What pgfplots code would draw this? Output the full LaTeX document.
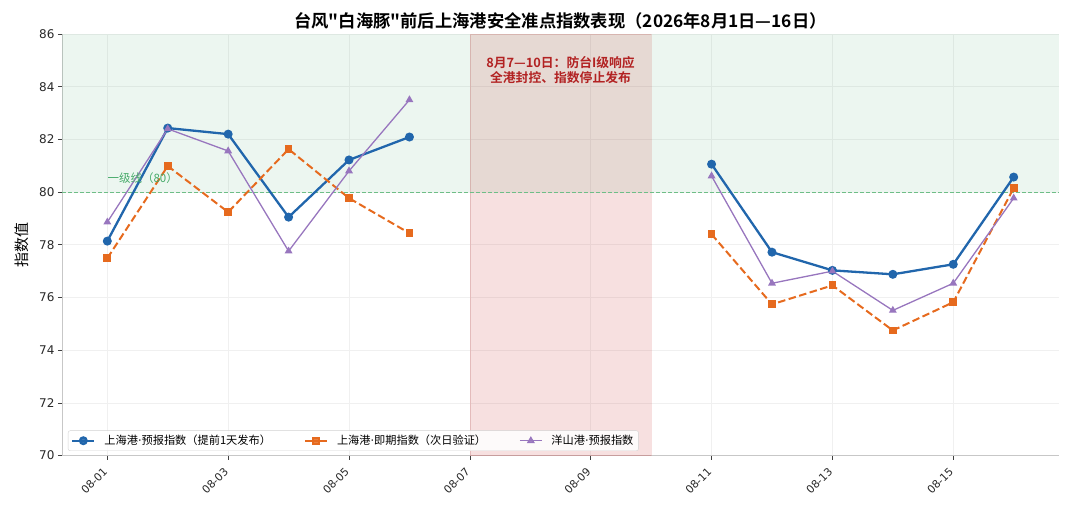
\documentclass[border=0pt]{standalone}
\usepackage{pgfplots}
\usepackage{pgfplotstable}
\pgfplotsset{compat=1.18}
\usepackage{fontspec}
\setmainfont{DejaVu Sans}
\newfontfamily\cjk{Noto Sans CJK SC}[BoldFont={Noto Sans CJK SC Bold}]
\newcommand{\md}{{\rmfamily ·}}
\definecolor{cblue}{RGB}{33,102,172}
\definecolor{corange}{RGB}{230,106,30}
\definecolor{cpurple}{RGB}{152,118,190}
\definecolor{cgreen}{RGB}{46,160,90}
\definecolor{cgline}{RGB}{110,190,135}
\definecolor{cgtext}{RGB}{70,170,105}
\definecolor{cred}{RGB}{200,50,50}
\definecolor{cannot}{RGB}{178,34,34}
\definecolor{txt}{RGB}{40,40,40}

\pgfplotstableread{
x blue orange purple
1 78.14 77.49 78.86
2 82.43 80.99 82.40
3 82.20 79.24 81.56
4 79.05 81.63 77.76
5 81.22 79.77 80.80
6 82.09 78.44 83.50
7 nan nan nan
11 81.06 78.40 80.61
12 77.72 75.74 76.54
13 77.03 76.46 77.00
14 76.88 74.75 75.51
15 77.26 75.82 76.54
16 80.57 80.15 79.77
}\data

\begin{document}
\begin{tikzpicture}[x=1bp,y=1bp]
\begin{axis}[
  at={(0,0)}, anchor=south west,
  scale only axis, width=997bp, height=421.6bp,
  xmin=0.25, xmax=16.75, ymin=70, ymax=86,
  xtick={1,3,5,7,9,11,13,15},
  xticklabels={08-01,08-03,08-05,08-07,08-09,08-11,08-13,08-15},
  ytick={70,72,...,86},
  axis x line*=bottom, axis y line*=left,
  axis line style={draw=black!22, line width=0.8bp},
  tick align=outside, major tick length=4bp,
  tick style={draw=black!75, line width=0.7bp},
  /pgf/number format/assume math mode=true,
  yticklabel style={font=\fontsize{12bp}{14bp}\selectfont, text=txt},
  xticklabel style={font=\fontsize{10.8bp}{12bp}\selectfont, text=txt, rotate=45, anchor=north east, inner sep=1.5bp, xshift=-7bp},
  grid=major, grid style={draw=black!6, line width=0.6bp},
  unbounded coords=jump,
  title={\cjk\bfseries 台风"白海豚"前后上海港安全准点指数表现（2026年8月1日—16日）},
  title style={font=\fontsize{17.3bp}{19bp}\selectfont, at={(axis description cs:0.5,1)}, anchor=center, yshift=7.5bp},
  ylabel={\cjk 指数值},
  ylabel style={font=\fontsize{15bp}{17bp}\selectfont, at={(axis description cs:-0.0402,0.5)}, anchor=center},
  legend columns=3,
  legend style={at={(0.006,0.011)}, anchor=south west, draw=black!18, rounded corners=2bp,
    fill=white, fill opacity=0.85, text opacity=1, font=\cjk\fontsize{11.2bp}{13bp}\selectfont,
    inner xsep=3bp, inner ysep=2.5bp,
    /tikz/every odd column/.append style={column sep=7bp},
    /tikz/every even column/.append style={column sep=31bp}},
  legend cell align=left,
  legend image code/.code={\draw[mark repeat=2, mark phase=2, solid, #1] plot coordinates {(0bp,0bp) (11bp,0bp) (22bp,0bp)};},
]
\addplot[draw=none, fill=cgreen, fill opacity=0.09, forget plot]
  coordinates {(0.25,80) (16.75,80) (16.75,86) (0.25,86)} -- cycle;
\addplot[draw=cred, draw opacity=0.15, line width=0.6bp, fill=cred, fill opacity=0.15, forget plot]
  coordinates {(7,70) (10,70) (10,86) (7,86)} -- cycle;
\addplot[draw=cgline, line width=0.9bp, dash pattern=on 4bp off 2bp, forget plot]
  coordinates {(0.25,80) (16.75,80)};

\addplot[color=cblue, line width=2.3bp, mark=*, mark size=3.3bp, mark options={solid}]
  table[x=x, y=blue] {\data};
\addlegendentry{上海港\md 预报指数（提前1天发布）}
\addplot[color=corange, line width=2bp, dash pattern=on 7.5bp off 3.5bp, mark=square*, mark size=2.9bp, mark options={solid}]
  table[x=x, y=orange] {\data};
\addlegendentry{上海港\md 即期指数（次日验证）}
\addplot[color=cpurple, line width=1.3bp, mark=triangle*, mark size=3.3bp, mark options={solid}]
  table[x=x, y=purple] {\data};
\addlegendentry{洋山港\md 预报指数}

\node[anchor=west, inner sep=0pt, text=cgtext, font=\cjk\fontsize{11.5bp}{13bp}\selectfont] at (axis cs:1.0,80.52) {一级线（80）};
\node[align=center, inner sep=0pt, text=cannot, font=\cjk\bfseries\fontsize{12.8bp}{15bp}\selectfont] at (axis cs:8.5,84.62) {8月7—10日：防台I级响应\\全港封控、指数停止发布};
\end{axis}
\pgfresetboundingbox
\path[use as bounding box] (-62bp,-50.4bp) rectangle (1018bp,455.6bp);
\end{tikzpicture}
\end{document}
